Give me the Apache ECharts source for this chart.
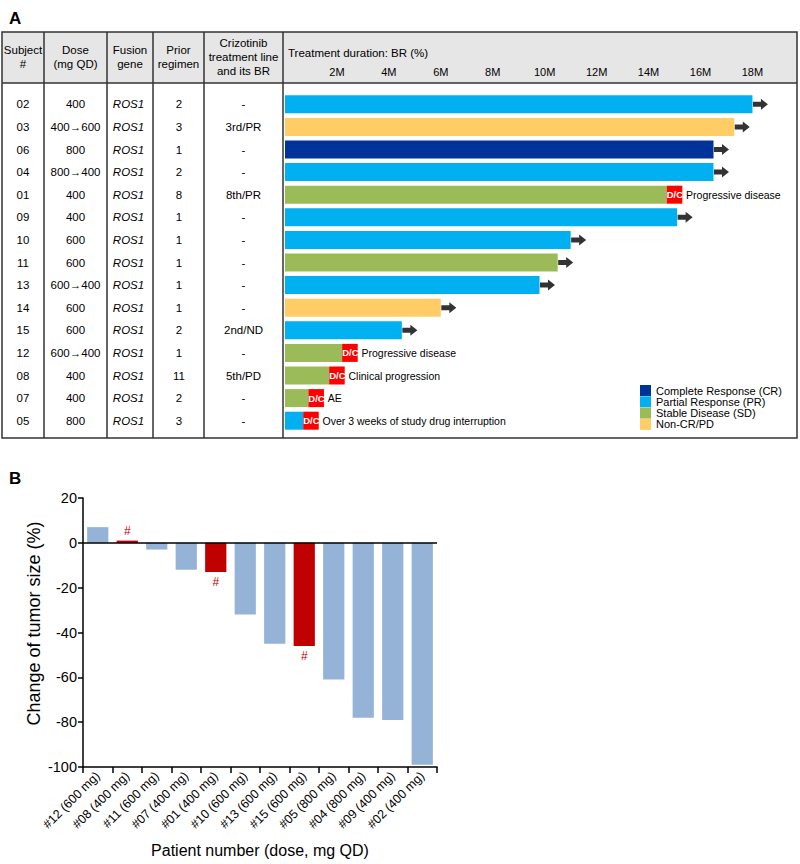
<!DOCTYPE html>
<html><head><meta charset="utf-8">
<script src="https://cdn.jsdelivr.net/npm/echarts@6.0.0/dist/echarts.min.js"></script>
<style>html,body{margin:0;padding:0;background:#fff}#chart{width:800px;height:864px}</style>
</head><body><div id="chart"></div>
<script>
// ---------- Panel A data ----------
const subjects = ['02','03','06','04','01','09','10','11','13','14','15','12','08','07','05'];
const doses = ['400','400→600','800','800→400','400','400','600','600','600→400','600','600','600→400','400','400','800'];
const fusionGenes = ['ROS1','ROS1','ROS1','ROS1','ROS1','ROS1','ROS1','ROS1','ROS1','ROS1','ROS1','ROS1','ROS1','ROS1','ROS1'];
const priorRegimens = ['2','3','1','2','8','1','1','1','1','1','2','1','11','2','3'];
const crizotinibLine = ['-','3rd/PR','-','-','8th/PR','-','-','-','-','-','2nd/ND','-','5th/PD','-','-'];
const durations = [18.0,17.3,16.5,16.5,14.7,15.1,11.0,10.5,9.8,6.0,4.5,2.2,1.7,0.9,0.7];
const responses = ['PR','NonCR','CR','PR','SD','PR','PR','SD','PR','NonCR','PR','SD','SD','SD','PR'];
const discontinuation = ['','','','','Progressive disease','','','','','','','Progressive disease','Clinical progression','AE','Over 3 weeks of study drug interruption'];
const durationTicks = [2,4,6,8,10,12,14,16,18];
const responseKeys = ['CR','PR','SD','NonCR'];
const responseNames = ['Complete Response (CR)','Partial Response (PR)','Stable Disease (SD)','Non-CR/PD'];

// ---------- Panel B data ----------
const patients = ['#12 (600 mg)','#08 (400 mg)','#11 (600 mg)','#07 (400 mg)','#01 (400 mg)','#10 (600 mg)','#13 (600 mg)','#15 (600 mg)','#05 (800 mg)','#04 (800 mg)','#09 (400 mg)','#02 (400 mg)'];
const tumorChange = [7,1,-3,-12,-13,-32,-45,-46,-61,-78,-79,-99];
const flagged = [false,true,false,false,true,false,false,true,false,false,false,false];
const changeTicks = [20,0,-20,-40,-60,-80,-100];

// ---------- styles ----------
const FONT = 'Arial, "Liberation Sans", sans-serif';
const responseColors = {CR:'#003399', PR:'#00B0F0', SD:'#9BBB59', NonCR:'#FFCC66'};
const DC_WIDTH = 0.6;
const ARROW = 'path://M0,3 L8,3 L8,0 L15,5.5 L8,11 L8,8 L0,8 Z';

const chart = echarts.init(document.getElementById('chart'), null, {renderer:'svg'});

const responseSeries = responseKeys.map((k, ki) => ({
  name: responseNames[ki], type: 'bar', stack: 'dur', xAxisIndex: 0, yAxisIndex: 0,
  barWidth: 18, itemStyle: {color: responseColors[k]},
  data: durations.map((d, i) => responses[i] === k ? d : null),
  animation: false
}));

const dcSeries = {
  name: 'D/C', type: 'bar', stack: 'dur', xAxisIndex: 0, yAxisIndex: 0, barWidth: 18,
  itemStyle: {color: '#FF0000'}, animation: false,
  data: discontinuation.map((r) => r ? {
    value: DC_WIDTH,
    label: {show: true, position: 'insideLeft', distance: 0,
      formatter: '{d|D/C}{r|' + r + '}',
      rich: {d: {color:'#fff', fontWeight:'bold', fontSize:9.5, fontFamily:FONT},
             r: {color:'#000', fontSize:10.5, fontFamily:FONT, padding:[0,0,0,3]}}}
  } : null)
};

const arrowSeries = {
  name: 'ongoing', type: 'scatter', xAxisIndex: 0, yAxisIndex: 0,
  symbol: ARROW, symbolSize: [15, 11], symbolOffset: [8, 0],
  itemStyle: {color: '#000'}, animation: false, silent: true,
  data: durations.map((d, i) => discontinuation[i] ? null : [d, subjects[i]]).filter(x => x)
};

const barB = {
  name: 'change', type: 'bar', xAxisIndex: 1, yAxisIndex: 6, barWidth: '72%', animation: false,
  data: tumorChange.map((v, i) => ({
    value: v,
    itemStyle: {color: flagged[i] ? '#C00000' : '#95B3D7'},
    label: {show: flagged[i], position: v >= 0 ? 'top' : 'bottom', formatter: '#', color: '#C00000',
      fontSize: 12, fontFamily: FONT, distance: 4}
  })),
  markLine: {silent: true, symbol: 'none', label: {show: false},
    lineStyle: {color: '#000', width: 1.5, type: 'solid'}, data: [{yAxis: 0}]}
};

function tableAxis(arr, margin, extra) {
  return Object.assign({
    type: 'category', gridIndex: 0, inverse: true, data: subjects, position: 'left',
    axisLine: {show: false}, axisTick: {show: false}, splitLine: {show: false},
    axisLabel: {margin: margin, align: 'center', color: '#000', fontSize: 11.5, fontFamily: FONT,
      formatter: (v, i) => arr[i]}
  }, extra || {});
}

const headerText = (text, x, y, extra) => ({type: 'text', z: 5, style: Object.assign({
  text: text, x: x, y: y, fill: '#000', fontSize: 11.5, fontFamily: FONT,
  align: 'center', verticalAlign: 'middle', lineHeight: 14}, extra || {})});
const vline = (x) => ({type: 'line', z: 6, shape: {x1: x, y1: 32, x2: x, y2: 438}, style: {stroke: '#333', lineWidth: 1.5}});

const option = {
  backgroundColor: '#fff',
  animation: false,
  textStyle: {fontFamily: FONT},
  grid: [
    {left: 285, top: 93, width: 509, height: 339, outerBoundsMode: 'none', containLabel: false},
    {left: 83, top: 498, width: 354, height: 269, outerBoundsMode: 'none', containLabel: false}
  ],
  legend: {
    data: responseNames, orient: 'vertical', left: 640, top: 385, padding: 0, itemGap: 0.3,
    itemWidth: 11, itemHeight: 11, icon: 'rect', selectedMode: false,
    textStyle: {fontSize: 11, color: '#000', fontFamily: FONT, lineHeight: 11}
  },
  xAxis: [
    {type: 'value', gridIndex: 0, position: 'top', min: 0, max: 19.6, interval: 2,
      axisLine: {show: false}, axisTick: {show: false}, splitLine: {show: false},
      axisLabel: {margin: 16, color: '#000', fontSize: 11, fontFamily: FONT,
        formatter: v => durationTicks.indexOf(v) >= 0 ? v + 'M' : ''}},
    {type: 'category', gridIndex: 1, data: patients, position: 'bottom',
      axisLine: {onZero: false, lineStyle: {color: '#000', width: 1.5}},
      axisTick: {show: true, length: 6, lineStyle: {color: '#000', width: 1.5}},
      axisLabel: {rotate: 45, interval: 0, margin: 7, color: '#000', fontSize: 12.5, fontFamily: FONT},
      name: 'Patient number (dose, mg QD)', nameLocation: 'middle', nameGap: 75,
      nameTextStyle: {fontSize: 16, color: '#000', fontFamily: FONT}}
  ],
  yAxis: [
    tableAxis(subjects, 262),
    tableAxis(doses, 209.5),
    tableAxis(fusionGenes, 156.5, {axisLabel: {margin: 156.5, align: 'center', color: '#000', fontSize: 11.5,
      fontFamily: FONT, fontStyle: 'italic', formatter: (v, i) => fusionGenes[i]}}),
    tableAxis(priorRegimens, 106),
    tableAxis(crizotinibLine, 41.5),
    {type: 'category', gridIndex: 0, inverse: true, data: subjects, show: false},
    {type: 'value', gridIndex: 1, min: -100, max: 20, interval: 20,
      axisLine: {show: true, lineStyle: {color: '#000', width: 1.5}},
      axisTick: {show: true, length: 5, lineStyle: {color: '#000', width: 1.5}},
      splitLine: {show: false},
      axisLabel: {color: '#000', fontSize: 14.5, fontFamily: FONT, margin: 6,
        formatter: v => changeTicks.indexOf(v) >= 0 ? String(v) : ''},
      name: 'Change of tumor size (%)', nameLocation: 'middle', nameGap: 40,
      nameTextStyle: {fontSize: 18, color: '#000', fontFamily: FONT, padding: [0, 0, 0, 18]}}
  ],
  graphic: [
    {type: 'rect', z: -10, shape: {x: 2, y: 32, width: 795, height: 51}, style: {fill: '#E6E6E6'}},
    {type: 'rect', z: 6, shape: {x: 2, y: 32, width: 795, height: 406}, style: {fill: 'none', stroke: '#333', lineWidth: 1.5}},
    {type: 'line', z: 6, shape: {x1: 2, y1: 83, x2: 797, y2: 83}, style: {stroke: '#333', lineWidth: 1.5}},
    vline(44), vline(107), vline(153), vline(204), vline(283),
    headerText('Subject\n#', 23, 57),
    headerText('Dose\n(mg QD)', 75.5, 57),
    headerText('Fusion\ngene', 130, 57),
    headerText('Prior\nregimen', 178.5, 57),
    headerText('Crizotinib\ntreatment line\nand its BR', 243.5, 57),
    headerText('Treatment duration: BR (%)', 288, 53, {align: 'left'}),
    {type: 'text', z: 5, style: {text: 'A', x: 9, y: 18, fill: '#000', fontSize: 17, fontWeight: 'bold', fontFamily: FONT, verticalAlign: 'middle'}},
    {type: 'text', z: 5, style: {text: 'B', x: 9, y: 478, fill: '#000', fontSize: 17, fontWeight: 'bold', fontFamily: FONT, verticalAlign: 'middle'}}
  ],
  series: responseSeries.concat([dcSeries, arrowSeries, barB])
};
chart.setOption(option);
</script></body></html>
